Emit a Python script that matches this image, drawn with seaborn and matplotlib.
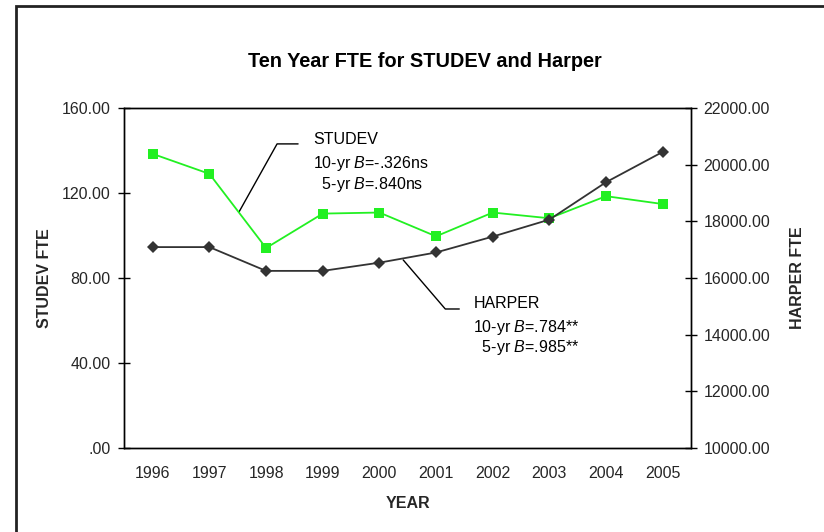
import numpy as np
import pandas as pd
import matplotlib
matplotlib.use("Agg")
import matplotlib.pyplot as plt
import seaborn as sns
from matplotlib.ticker import FuncFormatter
from matplotlib.patches import Rectangle

years = [1996, 1997, 1998, 1999, 2000, 2001, 2002, 2003, 2004, 2005]
studev_fte = [138.4, 129.0, 94.1, 110.3, 110.8, 99.6, 110.8, 108.1, 118.5, 114.8]
harper_fte = [17090, 17090, 16250, 16250, 16540, 16900, 17460, 18060, 19380, 20450]

studev_note = ["STUDEV", r"10-yr $\mathit{B}$=-.326ns", r"  5-yr $\mathit{B}$=.840ns"]
harper_note = ["HARPER", r"10-yr $\mathit{B}$=.784**", r"  5-yr $\mathit{B}$=.985**"]

df = pd.DataFrame({"Year": years, "STUDEV": studev_fte, "HARPER": harper_fte})

sns.set_style("white")
plt.rcParams['font.family'] = ['Liberation Sans', 'DejaVu Sans']
plt.rcParams['mathtext.fontset'] = 'custom'
plt.rcParams['mathtext.rm'] = 'Liberation Sans'
plt.rcParams['mathtext.it'] = 'Liberation Sans:italic'
plt.rcParams['text.color'] = 'black'

fs = 11.5

fig = plt.figure(figsize=(8.24, 5.32), dpi=100)
ax = fig.add_axes([0.151, 0.158, 0.6876, 0.639])

sns.lineplot(data=df, x="Year", y="STUDEV", ax=ax, color="#22f022", marker="s",
             markersize=7.5, markeredgewidth=0, linewidth=1.3)
ax2 = ax.twinx()
sns.lineplot(data=df, x="Year", y="HARPER", ax=ax2, color="#333333", marker="D",
             markersize=6.5, markeredgewidth=0, linewidth=1.3)

ax.set_xlim(1995.5, 2005.5)
ax.set_ylim(0, 160)
ax.set_yticks(np.arange(0, 161, 40))
ax2.set_ylim(10000, 22000)
ax2.set_yticks(np.arange(10000, 22001, 2000))
ax.set_xticks(years)
ax.set_xticks(np.arange(1995.5, 2005.6, 1), minor=True)


def fmt_left(v, pos):
    s = f"{v:.2f}"
    return s[1:] if s.startswith("0.") else s


ax.yaxis.set_major_formatter(FuncFormatter(fmt_left))
ax2.yaxis.set_major_formatter(FuncFormatter(lambda v, p: f"{v:.2f}"))

ax.tick_params(axis='x', which='major', length=0, pad=13, labelsize=fs)
ax.tick_params(axis='x', which='minor', direction='inout', length=8, width=1, color='black')
ax.tick_params(axis='y', direction='inout', length=8, width=1, pad=6, labelsize=fs, color='black', left=True)
ax2.tick_params(axis='y', direction='inout', length=8, width=1, pad=5, labelsize=fs, color='black', right=True)

for a in (ax, ax2):
    for sp in a.spines.values():
        sp.set_color('black')
        sp.set_linewidth(1)

ax.set_xlabel("YEAR", fontsize=fs, fontweight='bold', labelpad=11)
ax.set_ylabel("STUDEV FTE", fontsize=fs, fontweight='bold', labelpad=7)
ax2.set_ylabel("HARPER FTE", fontsize=fs, fontweight='bold', labelpad=14)

fig.text(0.516, 0.885, "Ten Year FTE for STUDEV and Harper", fontsize=14.3,
         fontweight='bold', ha='center', va='center')

# leader lines for the notes
ax.plot([1997.523, 1998.194, 1998.565], [111.1, 143.1, 143.1], color='black', lw=1, zorder=1)
ax.plot([2000.42, 2001.163, 2001.41], [88.5, 65.4, 65.4], color='black', lw=1, zorder=1)

for txt, yv in zip(studev_note, [145.4, 134.1, 123.8]):
    ax.text(1998.83, yv, txt, fontsize=fs, ha='left', va='center')
for txt, yv in zip(harper_note, [68.2, 56.9, 47.5]):
    ax.text(2001.657, yv, txt, fontsize=fs, ha='left', va='center')

fig.patches.append(Rectangle((16 / 824, -0.05), 1.0, 1.0387, transform=fig.transFigure,
                             fill=False, edgecolor='#222222', lw=2))

fig.savefig("out.png", dpi=100)
